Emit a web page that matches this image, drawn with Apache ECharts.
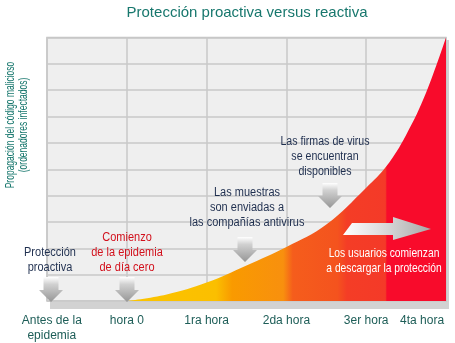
<!DOCTYPE html>
<html>
<head>
<meta charset="utf-8">
<script src="https://cdn.jsdelivr.net/npm/echarts@6/dist/echarts.min.js"></script>
<style>
html,body{margin:0;padding:0;background:#fff;}
#c{width:455px;height:343px;}
</style>
</head>
<body>
<div id="c"></div>
<script>
// ---- data ----
const tickPositions = [0.06, 1, 2, 3, 4, 4.7];
const tickLabels = ['Antes de la\nepidemia', 'hora 0', '1ra hora', '2da hora', '3er hora', '4ta hora'];
const spreadX = [1.0, 1.5, 2.0, 2.5, 3.0, 3.5, 4.0, 4.25, 4.5, 4.75, 5.0];
const spreadY = [0, 0.25, 0.7, 1.35, 2.05, 2.9, 4.3, 5.1, 6.3, 7.9, 10];
const titleText = 'Protección proactiva versus reactiva';
const yTitle = 'Propagación del código malicioso\n(ordenadores infectados)';

const SANS = '"Liberation Sans", Arial, sans-serif';
const chart = echarts.init(document.getElementById('c'), null, {renderer: 'canvas'});

function downArrow(cx, top, headY, tip) {
  return {
    type: 'polygon', z: 20,
    shape: {points: [[cx - 7.5, top], [cx + 7.5, top], [cx + 7.5, headY], [cx + 12, headY], [cx, tip], [cx - 12, headY], [cx - 7.5, headY]]},
    style: {fill: new echarts.graphic.LinearGradient(0, 0, 0, 1, [
      {offset: 0, color: 'rgba(255,255,255,1)'}, {offset: 0.3, color: '#d0d0d0'}, {offset: 1, color: '#969696'}])}
  };
}
function txt(x, y, text, color, size, sx) {
  return {type: 'text', z: 30, x: x, y: y, scaleX: sx || 0.88,
    style: {text: text, fill: color, font: 'normal ' + size + 'px ' + SANS,
      align: 'center', verticalAlign: 'middle', lineHeight: 15}};
}

const option = {
  animation: false,
  grid: {left: 47, right: 9, top: 37.5, bottom: 40, show: true, backgroundColor: '#efefef', borderColor: '#c4c4c4', borderWidth: 1.5},
  xAxis: {
    type: 'value', min: 0, max: 5, interval: 1,
    axisLine: {show: false}, axisTick: {show: false},
    splitLine: {show: true, lineStyle: {color: '#c9c9c9', width: 1.5}},
    axisLabel: {
      customValues: tickPositions,
      formatter: function (v) {
        for (let i = 0; i < tickPositions.length; i++) if (Math.abs(tickPositions[i] - v) < 1e-6) return tickLabels[i];
        return '';
      },
      color: '#1d5d57', fontSize: 12, fontFamily: SANS, margin: 12, lineHeight: 15,
      verticalAlign: 'top'
    }
  },
  yAxis: {
    type: 'value', min: 0, max: 10, interval: 1,
    axisLine: {show: false}, axisTick: {show: false}, axisLabel: {show: false},
    splitLine: {show: true, lineStyle: {color: '#c9c9c9', width: 1.5}}
  },
  series: [{
    type: 'line', smooth: 0.4, symbol: 'none', z: 5,
    data: spreadX.map((x, i) => [x, spreadY[i]]),
    lineStyle: {width: 0},
    areaStyle: {
      opacity: 1,
      color: new echarts.graphic.LinearGradient(0, 0, 1, 0, [
        {offset: 0, color: '#fbc400'}, {offset: 0.28, color: '#fbbf00'},
        {offset: 0.33, color: '#f99a00'}, {offset: 0.49, color: '#f8900e'},
        {offset: 0.52, color: '#f55d1c'}, {offset: 0.66, color: '#f4531e'},
        {offset: 0.69, color: '#f43d26'}, {offset: 0.81, color: '#f43a28'},
        {offset: 0.815, color: '#f80b2b'}, {offset: 1, color: '#f80b2b'}])
    }
  }],
  graphic: [
    {type: 'rect', z: -1, shape: {x: 50, y: 302, width: 399, height: 7}, style: {fill: '#d2d2d2'}},
    {type: 'rect', z: -1, shape: {x: 444, y: 40, width: 5, height: 268}, style: {fill: '#d2d2d2'}},
    {type: 'text', z: 30, x: 247, y: 13,
      style: {text: titleText, fill: '#17776d', font: 'normal 15px ' + SANS, align: 'center', verticalAlign: 'middle'}},
    {type: 'text', z: 30, x: 17, y: 125, rotation: Math.PI / 2, scaleX: 0.68,
      style: {text: yTitle, fill: '#17776d', font: 'normal 12.5px ' + SANS, align: 'center', verticalAlign: 'middle', lineHeight: 13}},
    downArrow(51, 277, 290, 302),
    downArrow(127, 277, 290, 302),
    downArrow(245, 237, 250, 262),
    downArrow(330, 183, 196, 208),
    {type: 'polygon', z: 20,
      shape: {points: [[343, 235], [352, 223], [393, 223], [393, 217], [431, 229], [393, 240], [393, 235]]},
      style: {fill: new echarts.graphic.LinearGradient(0, 0, 1, 0, [
        {offset: 0, color: '#ffffff'}, {offset: 0.4, color: '#e0e0e0'}, {offset: 1, color: '#a8a8a8'}])}},
    txt(50, 260, 'Protección\nproactiva', '#1f2f4f', 12.5),
    txt(127, 253, 'Comienzo\nde la epidemia\nde día cero', '#d2101c', 12.5),
    txt(247, 208, 'Las muestras\nson enviadas a\nlas compañías antivirus', '#1f2f4f', 12.5),
    txt(325, 157, 'Las firmas de virus\nse encuentran\ndisponibles', '#1f2f4f', 12.5, 0.85),
    txt(384, 261, 'Los usuarios comienzan\na descargar la protección', '#ffffff', 13, 0.79)
  ]
};
chart.setOption(option);
</script>
</body>
</html>
